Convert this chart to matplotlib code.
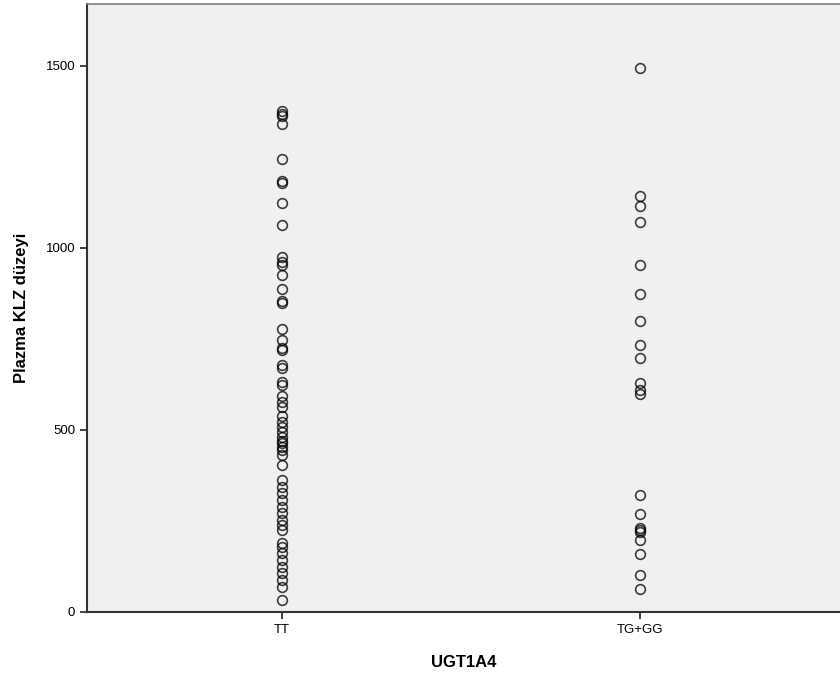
import matplotlib.pyplot as plt

plt.rcParams['font.family'] = ['Liberation Sans', 'DejaVu Sans']

categories = ['TT', 'TG+GG']

tt_values = [1377, 1368, 1361, 1341, 1244, 1185, 1178, 1123, 1063, 976, 962, 953,
             926, 887, 855, 850, 777, 747, 725, 720, 679, 670, 633, 624, 592,
             577, 564, 537, 523, 509, 495, 482, 470, 463, 454, 445, 431, 404,
             363, 344, 326, 308, 289, 271, 253, 239, 225, 189, 179, 161, 143,
             124, 106, 88, 70, 33]

tggg_values = [1495, 1143, 1115, 1070, 953, 873, 800, 733, 697, 630, 610, 600,
               320, 269, 232, 225, 220, 198, 158, 102, 62]

groups = [tt_values, tggg_values]

fig = plt.figure(figsize=(8.4, 6.78), dpi=100)
ax = fig.add_axes([87 / 840, 66 / 678, 1 - 87 / 840, (612 - 4) / 678])
ax.set_facecolor('#f0f0f0')

for i, vals in enumerate(groups):
    ax.plot([i + 1] * len(vals), vals, linestyle='none', marker='o',
            markersize=7.0, markerfacecolor='none', markeredgecolor='black',
            markeredgewidth=1.2, alpha=0.75)

ax.set_xlim(0.455, 2.56)
ax.set_ylim(0, 1670)
ax.set_xticks([1, 2])
ax.set_xticklabels(categories)
ax.set_yticks([0, 500, 1000, 1500])
ax.tick_params(axis='both', direction='out', length=5, width=1.2,
               labelsize=9.5, color='#222222')

for side in ['left', 'bottom']:
    ax.spines[side].set_color('#333333')
    ax.spines[side].set_linewidth(1.5)
ax.spines['top'].set_color('#808080')
ax.spines['top'].set_linewidth(1.2)
ax.spines['right'].set_visible(False)

ax.set_xlabel('UGT1A4', fontsize=12, fontweight='bold', labelpad=14)
ax.set_ylabel('Plazma KLZ düzeyi', fontsize=12, fontweight='bold', labelpad=12)

fig.savefig('out.png', dpi=100)
